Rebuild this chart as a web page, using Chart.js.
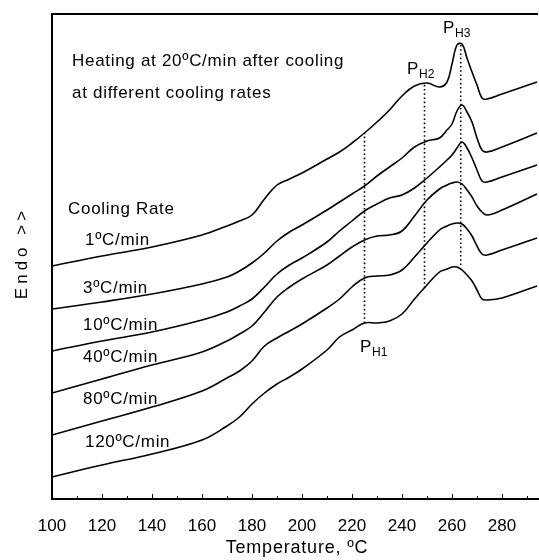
<!DOCTYPE html>
<html>
<head>
<meta charset="utf-8">
<script src="https://cdn.jsdelivr.net/npm/chart.js@4.4.0/dist/chart.umd.min.js"></script>
<style>
  html, body { margin: 0; padding: 0; background: #fff; }
  #wrap { width: 539px; height: 560px; }
</style>
</head>
<body>
<div id="wrap"><canvas id="dsc"></canvas></div>
<script>
// temperature grid (°C) shared by all traces
const temps = [100, 120, 140, 160, 170, 175, 180, 185, 190, 195, 200, 210, 215, 220, 225, 230,
               235, 240, 245, 250, 255, 258, 260, 262, 264, 266, 268, 270, 272, 274, 280, 294];

// endo signal, arbitrary units, one trace per cooling rate
const endo1   = [233, 243, 252, 264, 273, 278, 284, 300, 314, 320, 326, 340, 347, 356, 366, 377,
                 389, 403, 413, 416, 412, 417, 435, 454, 455, 441, 427, 414, 401, 400, 405, 417];
const endo3   = [190, 197, 205, 215, 222, 228, 236, 246, 258, 267, 274, 289, 297, 305, 313, 323,
                 332, 341, 352, 358, 361, 369, 375, 388, 394, 387, 377, 361, 349, 347, 352, 366];
const endo10  = [148, 158, 167, 179, 187, 193, 200, 212, 225, 234, 241, 257, 268, 278, 288, 295,
                 301, 304, 311, 321, 332, 339, 344, 351, 357, 351, 341, 329, 318, 317, 322, 334];
const endo40  = [106, 120, 134, 147, 158, 165, 173, 187, 202, 212, 220, 234, 243, 252, 259, 263,
                 264, 268, 283, 299, 310, 314, 316, 317, 315, 309, 302, 293, 287, 284, 289, 305];
const endo80  = [ 64,  78,  92, 108, 121, 128, 138, 153, 161, 168, 175, 191, 200, 212, 221, 223,
                 224, 229, 242, 256, 269, 273, 275, 276, 275, 270, 263, 253, 245, 244, 249, 261];
const endo120 = [ 22,  34,  45,  59,  73,  82,  95, 106, 115, 122, 130, 149, 162, 169, 176, 176,
                 178, 185, 200, 214, 227, 230, 232, 232, 229, 224, 218, 209, 200, 199, 201, 213];

const traces = [endo1, endo3, endo10, endo40, endo80, endo120];
const rateLabels = ['1ºC/min', '3ºC/min', '10ºC/min', '40ºC/min', '80ºC/min', '120ºC/min'];

// dotted peak markers PH1, PH2, PH3
const peakNames  = ['H1', 'H2', 'H3'];
const peakTemps  = [225, 249, 263.5];
const peakTop    = [366, 416, 456];
const peakBottom = [176, 211, 234];

const xTicks = [100, 120, 140, 160, 180, 200, 220, 240, 260, 280];

const FONT = '"Liberation Sans", Arial, Helvetica, sans-serif';

const datasets = traces.map((vals, i) => ({
  label: rateLabels[i],
  data: temps.map((t, j) => ({ x: t, y: vals[j] })),
  borderColor: '#000',
  borderWidth: 1.6,
  pointRadius: 0,
  fill: false,
  tension: 0.4,
}));

peakTemps.forEach((t, i) => {
  datasets.push({
    label: 'P' + peakNames[i],
    data: [{ x: t, y: peakBottom[i] }, { x: t, y: peakTop[i] }],
    borderColor: '#000',
    borderWidth: 1.6,
    borderDash: [1.6, 2.6],
    pointRadius: 0,
    fill: false,
  });
});

// frame, inward ticks and all the free text
const decor = {
  id: 'decor',
  afterDraw(chart) {
    const { ctx, chartArea: a, scales: { x, y } } = chart;
    ctx.save();
    ctx.strokeStyle = '#000';
    ctx.lineWidth = 2;
    ctx.beginPath();
    ctx.moveTo(a.left, a.top);
    ctx.lineTo(a.right, a.top);
    ctx.stroke();

    ctx.lineWidth = 1;
    for (let t = 100; t <= 290; t += 10) {
      const px = Math.round(x.getPixelForValue(t)) + 0.5;
      const len = t % 20 === 0 ? 5 : 3;
      ctx.beginPath();
      ctx.moveTo(px, a.bottom);
      ctx.lineTo(px, a.bottom - len);
      ctx.stroke();
    }

    ctx.fillStyle = '#000';
    ctx.textBaseline = 'middle';
    ctx.textAlign = 'left';
    ctx.font = '17px ' + FONT;
    ctx.letterSpacing = '0.7px';
    ctx.fillText('Heating at 20ºC/min after cooling', 72, 61);
    ctx.fillText('at different cooling rates', 72, 93);
    ctx.fillText('Cooling Rate', 68, 209);

    const labelY = [240, 288, 325, 357, 399, 442];
    const labelX = [85, 83, 83, 83, 83, 85];
    rateLabels.forEach((s, i) => ctx.fillText(s, labelX[i], labelY[i]));

    // peak labels
    const pPos = [[360, 347], [407, 69], [443, 28]];
    pPos.forEach(([px, py], i) => {
      ctx.font = '17px ' + FONT;
      ctx.letterSpacing = '0px';
      ctx.fillText('P', px, py);
      ctx.font = '12px ' + FONT;
      ctx.fillText(peakNames[i], px + 12, py + 6);
    });

    // axis titles
    ctx.font = '18px ' + FONT;
    ctx.letterSpacing = '0.8px';
    ctx.textAlign = 'center';
    ctx.fillText('Temperature, ºC', 297, 548);

    ctx.save();
    ctx.translate(22, 253);
    ctx.rotate(-Math.PI / 2);
    ctx.font = '17px ' + FONT;
    ctx.letterSpacing = '4px';
    ctx.fillText('Endo >>', 0, 0);
    ctx.restore();

    ctx.restore();
  },
};

new Chart(document.getElementById('dsc'), {
  type: 'line',
  data: { datasets },
  options: {
    responsive: true,
    maintainAspectRatio: false,
    animation: false,
    layout: { padding: { left: 0, right: 1, top: 14, bottom: 0 } },
    plugins: { legend: { display: false }, tooltip: { enabled: false } },
    scales: {
      x: {
        type: 'linear',
        min: 100,
        max: 294.4,
        afterBuildTicks: s => { s.ticks = xTicks.map(v => ({ value: v })); },
        afterFit: s => { s.height = 61; },
        grid: { display: false },
        border: { display: true, color: '#000', width: 2 },
        ticks: {
          color: '#000',
          padding: 9,
          maxRotation: 0,
          autoSkip: false,
          font: { family: FONT, size: 17 },
        },
      },
      y: {
        min: 0,
        max: 485,
        afterFit: s => { s.width = 52; },
        grid: { display: false },
        border: { display: true, color: '#000', width: 2 },
        ticks: { display: false },
      },
    },
  },
  plugins: [decor],
});
</script>
</body>
</html>
